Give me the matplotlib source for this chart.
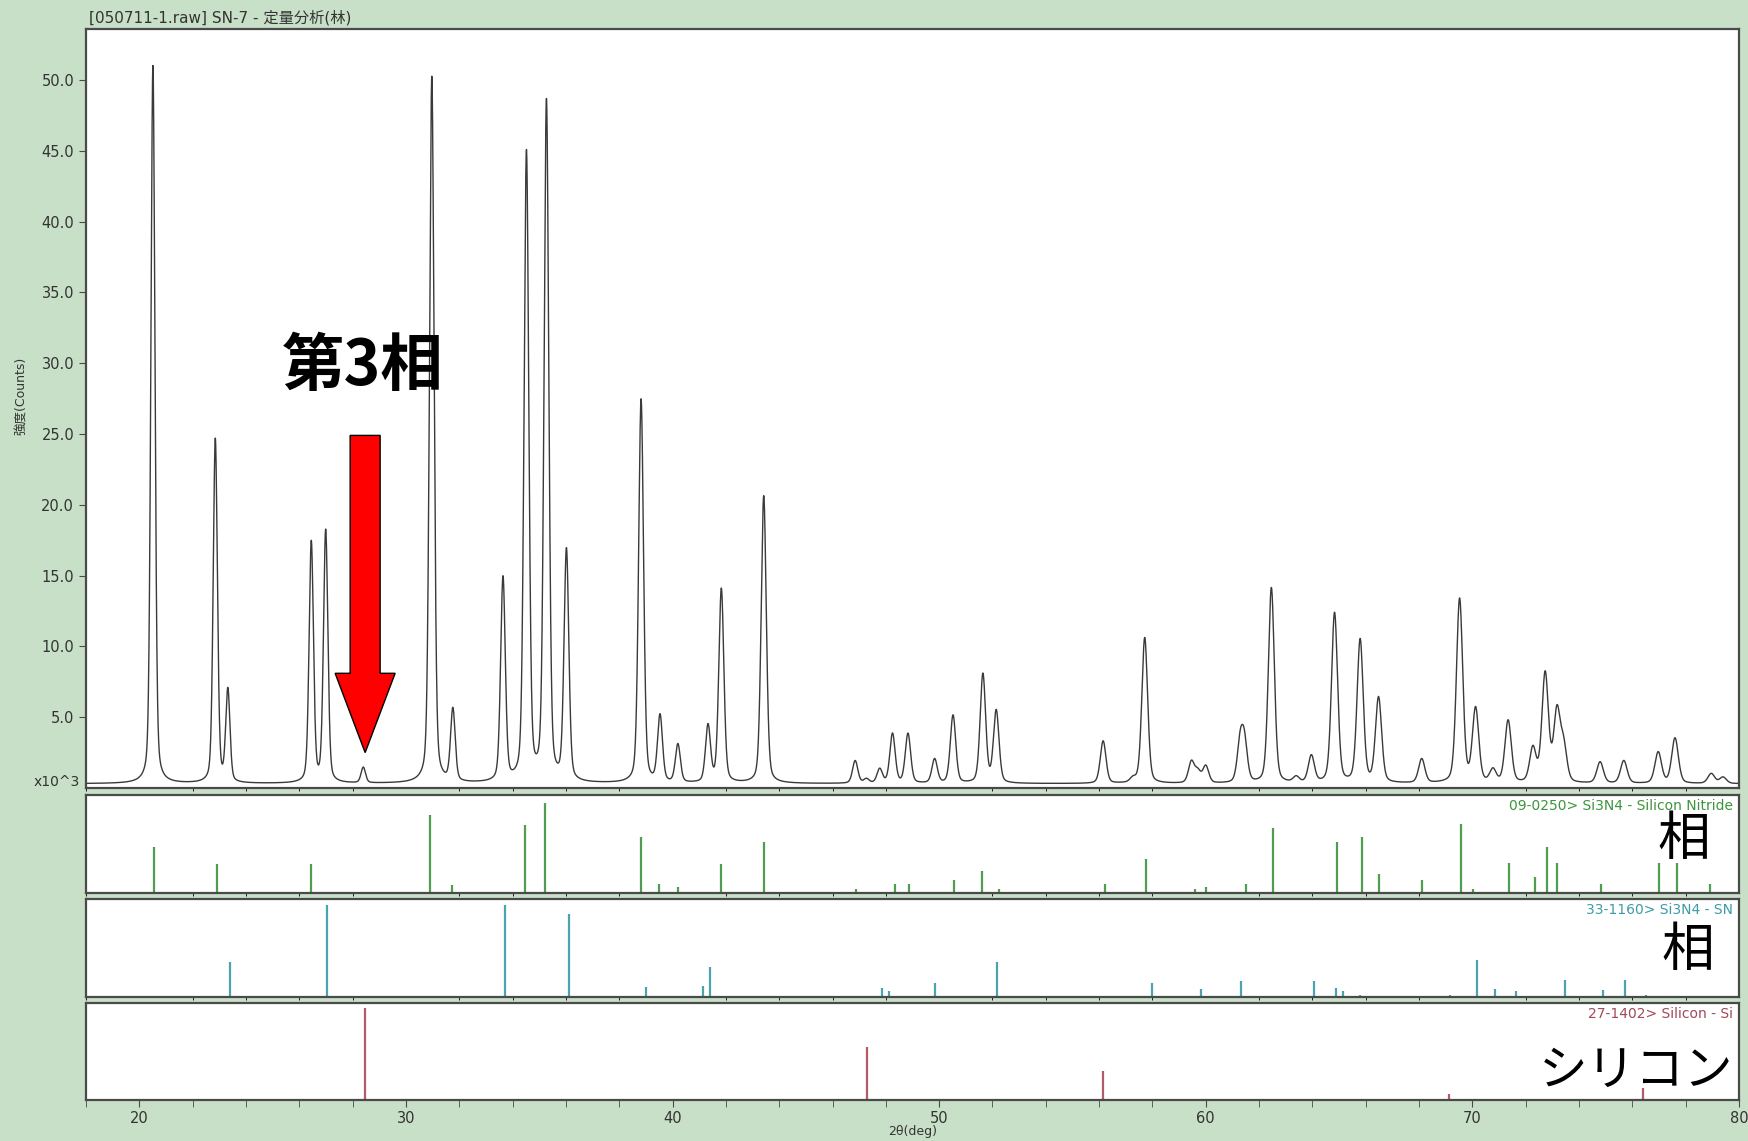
import numpy as np
import matplotlib.pyplot as plt
from matplotlib.patches import FancyArrow
from matplotlib.ticker import MultipleLocator

plt.rcParams['font.family'] = ['DejaVu Sans', 'Noto Sans CJK JP']

# measured pattern: peak positions (2θ, deg) and peak heights (x10^3 counts)
peak_pos = [20.51, 22.85, 23.32, 26.45, 26.99, 28.40, 30.97, 31.76, 33.64, 34.52,
            35.27, 36.02, 38.82, 39.53, 40.20, 41.33, 41.83, 43.42, 46.85, 47.27,
            47.77, 48.25, 48.83, 49.83, 50.52, 51.64, 52.14, 56.15, 57.27, 57.71,
            59.46, 59.70, 60.00, 61.29, 61.45, 62.46, 63.39, 63.96, 64.83, 65.79,
            66.48, 68.10, 69.52, 70.12, 70.77, 71.34, 72.27, 72.73, 73.17, 73.42,
            74.79, 75.68, 76.97, 77.60, 78.96, 79.40]
peak_height = [51.0, 24.6, 6.8, 17.3, 18.1, 1.4, 50.2, 5.4, 14.7, 44.7,
               48.3, 16.6, 27.4, 5.0, 3.0, 4.3, 14.0, 20.6, 1.9, 0.6,
               1.3, 3.8, 3.8, 2.0, 5.1, 8.0, 5.4, 3.3, 0.6, 10.6,
               1.8, 1.1, 1.5, 3.0, 3.0, 14.1, 0.7, 2.2, 12.3, 10.4,
               6.3, 2.0, 13.3, 5.5, 1.2, 4.7, 2.7, 8.0, 5.2, 2.8,
               1.8, 1.9, 2.5, 3.5, 1.0, 0.75]
background = 0.3

# card 09-0250 (alpha Si3N4)
card_a_pos = [20.56, 22.90, 26.45, 30.92, 31.72, 34.48, 35.23, 38.82, 39.49, 40.20,
              41.83, 43.42, 46.89, 48.35, 48.85, 50.57, 51.61, 52.24, 56.21, 57.76,
              59.60, 60.02, 61.52, 62.52, 64.91, 65.87, 66.49, 68.12, 69.57, 70.03,
              71.38, 72.34, 72.79, 73.18, 74.82, 77.01, 77.69, 78.93]
card_a_int = [51, 32, 32, 87, 9, 76, 100, 62, 10, 7,
              32, 57, 4, 10, 10, 15, 25, 4, 10, 38,
              4, 7, 10, 72, 57, 62, 21, 15, 77, 5,
              33, 18, 51, 33, 10, 33, 33, 10]

# card 33-1160 (beta Si3N4)
card_b_pos = [23.40, 27.04, 33.72, 36.10, 38.99, 41.16, 41.41, 47.85, 48.10, 49.86,
              52.16, 57.97, 59.81, 61.31, 64.06, 64.88, 65.13, 65.78, 69.16, 70.18,
              70.84, 71.63, 73.49, 74.90, 75.74, 76.53]
card_b_int = [38, 100, 100, 91, 11, 12, 33, 10, 7, 15,
              38, 15, 9, 17, 18, 10, 7, 2, 2, 40,
              9, 7, 19, 8, 19, 2]

# card 27-1402 (Si)
card_si_pos = [28.45, 47.29, 56.13, 69.12, 76.40]
card_si_int = [100, 57, 31, 7, 13]

# continuous profile from the peak list (pseudo-Voigt, width growing with angle)
tt = np.linspace(18, 80, 12401)
counts = np.full_like(tt, background)
for p, h in zip(peak_pos, peak_height):
    w = 0.18 + 0.002 * (p - 20)
    d = (tt - p) / (w / 2)
    counts += (h - background) * (0.3 / (1 + d ** 2) + 0.7 * np.exp(-np.log(2) * d ** 2))

bg = '#c8e0c8'
frame = '#4a4a4a'
txt = '#333333'

fig = plt.figure(figsize=(17.48, 11.41), dpi=100, facecolor=bg)
W_PX, H_PX = 1748, 1141
left, width = 86 / W_PX, 1653 / W_PX


def box(top, bottom):
    return [left, 1 - bottom / H_PX, width, (bottom - top) / H_PX]


ax = fig.add_axes(box(29, 788))
ax2 = fig.add_axes(box(795, 893), sharex=ax)
ax3 = fig.add_axes(box(899, 997), sharex=ax)
ax4 = fig.add_axes(box(1003, 1100), sharex=ax)

for a in (ax, ax2, ax3, ax4):
    a.set_facecolor('white')
    for s in a.spines.values():
        s.set_color(frame)
        s.set_linewidth(1.6)
    a.tick_params(colors=frame, labelcolor=txt, labelsize=10.5, direction='out', length=5)

ax.set_xlim(18, 80)

# main pattern
ax.plot(tt, counts, color='#3a3a3a', lw=1.0)
ax.set_ylim(0, 53.6)
ax.set_yticks(np.arange(5, 51, 5))
ax.set_yticklabels([f'{v:.1f}' for v in np.arange(5, 51, 5)])
ax.tick_params(axis='x', bottom=False, labelbottom=False)
ax.text(-0.004, 0.4, 'x10^3', transform=ax.get_yaxis_transform(), ha='right', va='center',
        fontsize=10, color=txt)
fig.text(22 / W_PX, 1 - 396 / H_PX, '強度(Counts)', rotation=90, ha='center', va='center',
         fontsize=9, color=txt)

# third-phase marker
ax.add_patch(FancyArrow(28.47, 24.9, 0, -22.4, width=1.125, head_width=2.25,
                        head_length=5.6, length_includes_head=True,
                        facecolor='#ff0000', edgecolor='black', lw=1.0, zorder=5))
ax.text(28.40, 29.8, '第3相', ha='center', va='center', fontsize=45,
        fontweight='bold', family=['Noto Sans CJK JP'], color='black')

# reference cards
cards = [
    (ax2, card_a_pos, card_a_int, '#4f9d4f', '#3c963c', '09-0250> Si3N4 - Silicon Nitride', 109),
    (ax3, card_b_pos, card_b_int, '#4aa3ae', '#3c9ca8', '33-1160> Si3N4 - SN', 107),
    (ax4, card_si_pos, card_si_int, '#b05a6a', '#a04a5a', '27-1402> Silicon - Si', 105),
]
for a, pos, inten, col, lcol, label, top in cards:
    a.vlines(pos, 0, inten, color=col, lw=1.6)
    a.set_ylim(0, top)
    a.set_yticks([])
    a.text(0.9964, 0.89, label, transform=a.transAxes, ha='right', va='center',
           fontsize=10, color=lcol)

ax2.tick_params(axis='x', bottom=False, labelbottom=False)
ax3.tick_params(axis='x', bottom=False, labelbottom=False)

ax2.text(0.9667, 0.55, '相', transform=ax2.transAxes, ha='center', va='center',
         fontsize=38, family=['Noto Sans CJK JP'], color='black')
ax3.text(0.969, 0.47, '相', transform=ax3.transAxes, ha='center', va='center',
         fontsize=38, family=['Noto Sans CJK JP'], color='black')
ax4.text(0.938, 0.30, 'シリコン', transform=ax4.transAxes, ha='center', va='center',
         fontsize=35, family=['Noto Sans CJK JP'], color='black')

# 2θ axis
ax4.xaxis.set_major_locator(MultipleLocator(10))
ax4.xaxis.set_minor_locator(MultipleLocator(2))
ax4.tick_params(axis='x', which='both', direction='out', length=5, colors=frame,
                labelcolor=txt, labelsize=10.5, pad=3)
fig.text(left + width / 2, 1 - 1132 / H_PX, '2θ(deg)', ha='center', va='center',
         fontsize=9, color=txt)

fig.text(89 / W_PX, 1 - 18 / H_PX, '[050711-1.raw] SN-7 - 定量分析(林)', ha='left',
         va='center', fontsize=11, color=txt)

fig.savefig('out.png', dpi=100, facecolor=bg)
